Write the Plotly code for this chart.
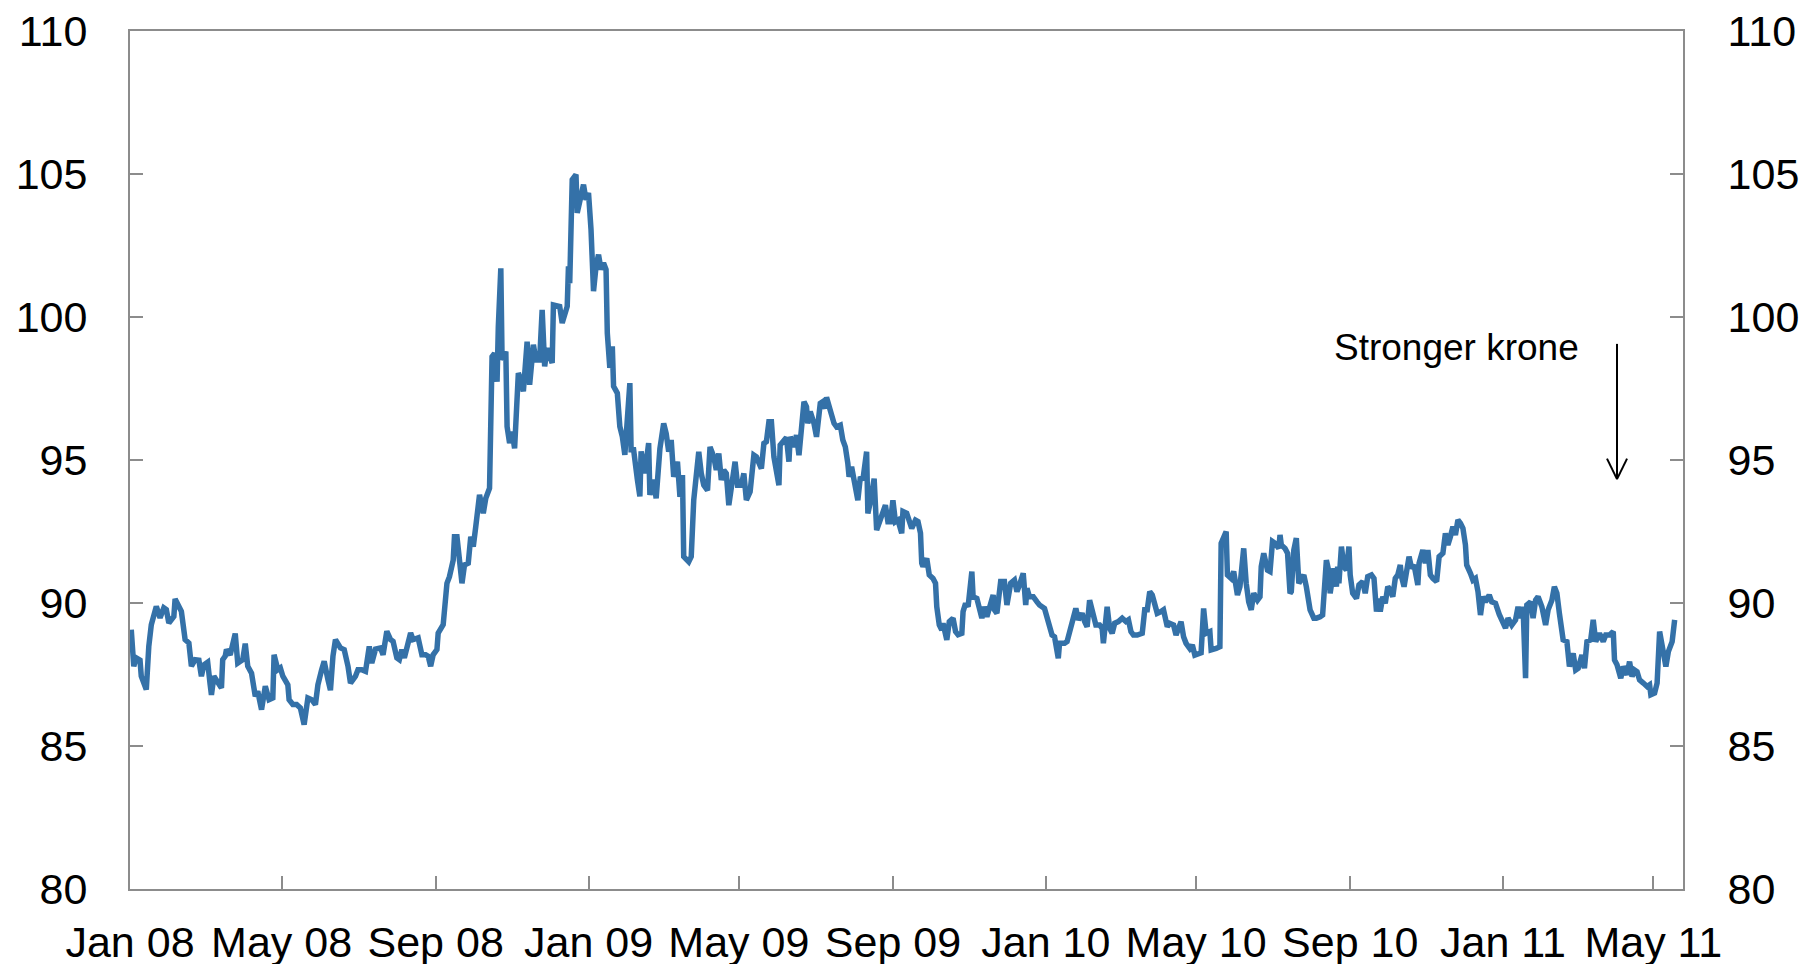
import pandas as pd
import plotly.graph_objects as go

# Day offsets counted from 1 Jan 2008 and index values
DAY_OFFSETS = [
    1, 3, 5, 8, 9, 13, 15, 17, 21, 24, 27, 29, 31, 35, 36, 39, 41, 44, 47, 49,
    52, 55, 57, 59, 62, 64, 65, 67, 70, 73, 74, 76, 77, 80, 84, 86, 90, 92, 94, 97,
    100, 102, 105, 108, 111, 114, 115, 118, 120, 122, 126, 127, 130, 133, 136, 139, 142, 145, 148, 150,
    153, 155, 158, 160, 162, 164, 168, 171, 174, 176, 180, 182, 185, 188, 191, 193, 196, 200, 202, 205,
    208, 210, 213, 215, 217, 219, 222, 224, 226, 230, 233, 236, 238, 240, 242, 245, 246, 250, 253, 255,
    258, 259, 261, 263, 265, 267, 270, 272, 274, 276, 279, 282, 284, 287, 289, 291, 293, 294, 296, 297,
    300, 301, 303, 305, 307, 310, 312, 314, 317, 319, 322, 324, 327, 329, 331, 333, 337, 338, 341, 343,
    345, 349, 350, 351, 353, 356, 357, 360, 362, 364, 366, 368, 370, 372, 374, 376, 378, 380, 381, 383,
    385, 386, 389, 391, 393, 395, 397, 399, 400, 402, 405, 407, 408, 411, 414, 415, 418, 420, 423, 426,
    428, 430, 432, 434, 437, 439, 441, 442, 446, 448, 450, 452, 454, 456, 458, 461, 463, 466, 468, 470,
    472, 474, 476, 478, 481, 483, 485, 488, 490, 492, 495, 498, 500, 504, 506, 508, 510, 512, 514, 516,
    518, 519, 522, 524, 526, 527, 530, 532, 534, 536, 538, 540, 541, 543, 546, 548, 551, 553, 555, 556,
    559, 562, 564, 567, 569, 571, 573, 574, 576, 578, 580, 581, 583, 585, 588, 589, 591, 594, 596, 599,
    603, 605, 607, 609, 611, 613, 616, 617, 620, 624, 627, 629, 631, 632, 633, 636, 638, 641, 643, 644,
    646, 648, 649, 652, 654, 657, 659, 661, 664, 665, 667, 669, 672, 673, 676, 680, 682, 684, 686, 689,
    690, 692, 695, 698, 700, 703, 706, 708, 710, 713, 715, 716, 718, 721, 724, 726, 730, 733, 736, 738,
    740, 741, 742, 746, 748, 750, 752, 755, 757, 760, 762, 764, 766, 768, 771, 774, 776, 777, 780, 782,
    784, 786, 789, 792, 795, 797, 799, 801, 804, 808, 810, 812, 814, 816, 818, 820, 823, 825, 828, 830,
    833, 835, 838, 839, 841, 843, 846, 848, 850, 853, 855, 857, 859, 862, 863, 867, 870, 871, 873, 875,
    876, 879, 881, 882, 884, 886, 889, 891, 893, 895, 897, 900, 902, 903, 905, 908, 910, 912, 914, 917,
    918, 919, 922, 924, 926, 927, 929, 931, 933, 935, 937, 939, 942, 945, 947, 950, 952, 955, 957, 958,
    961, 963, 964, 965, 967, 969, 971, 973, 974, 976, 979, 981, 984, 986, 988, 991, 993, 995, 997, 998,
    1000, 1002, 1004, 1006, 1008, 1010, 1012, 1014, 1015, 1017, 1019, 1021, 1023, 1025, 1028, 1029, 1032, 1034, 1036, 1038,
    1040, 1043, 1045, 1048, 1050, 1052, 1054, 1056, 1058, 1060, 1062, 1064, 1066, 1067, 1070, 1072, 1074, 1076, 1078, 1080,
    1082, 1085, 1087, 1090, 1093, 1096, 1098, 1100, 1103, 1106, 1108, 1110, 1112, 1114, 1115, 1118, 1120, 1122, 1124, 1127,
    1130, 1132, 1135, 1137, 1139, 1141, 1144, 1147, 1149, 1152, 1154, 1156, 1159, 1161, 1163, 1166, 1168, 1170, 1173, 1176,
    1178, 1181, 1184, 1185, 1187, 1190, 1192, 1195, 1197, 1199, 1201, 1203, 1205, 1208, 1211, 1213, 1214, 1217, 1219, 1221,
    1223, 1226, 1228, 1231, 1233,
]

INDEX_VALUES = [
    89.07, 87.79, 88.08, 88.00, 87.44, 86.97, 88.48, 89.24, 89.88, 89.48, 89.83, 89.77, 89.30, 89.53, 90.14, 89.83, 89.71, 88.72, 88.60, 87.79,
    88.02, 88.00, 87.44, 87.84, 87.93, 87.14, 86.79, 87.44, 87.20, 87.03, 88.02, 88.14, 88.37, 88.19, 88.93, 87.90, 88.02, 88.58, 87.79, 87.55,
    86.74, 86.91, 86.27, 87.09, 86.62, 86.68, 88.19, 87.67, 87.73, 87.44, 87.14, 86.62, 86.45, 86.45, 86.33, 85.75, 86.68, 86.62, 86.45, 87.14,
    87.67, 87.96, 87.32, 86.95, 88.14, 88.72, 88.43, 88.37, 87.79, 87.20, 87.44, 87.67, 87.67, 87.61, 88.48, 87.90, 88.39, 88.43, 88.19, 89.01,
    88.72, 88.66, 88.08, 88.02, 88.37, 88.08, 88.60, 88.95, 88.72, 88.78, 88.19, 88.19, 88.14, 87.79, 88.19, 88.37, 88.95, 89.24, 90.69, 90.92,
    91.50, 92.32, 92.32, 91.50, 90.69, 91.33, 91.39, 92.32, 91.97, 92.67, 93.78, 93.14, 93.66, 94.01, 98.61, 98.73, 97.74, 99.66, 101.70, 98.50,
    98.79, 96.17, 95.59, 95.99, 95.41, 98.04, 97.80, 97.40, 99.14, 97.63, 99.03, 98.50, 98.50, 100.25, 98.27, 98.91, 98.39, 100.42, 100.37, 100.37,
    99.79, 100.37, 101.77, 101.18, 104.80, 104.98, 103.64, 104.22, 104.63, 104.10, 104.34, 103.06, 100.90, 101.77, 102.18, 101.66, 101.89, 101.66, 99.44, 98.22,
    98.97, 97.58, 97.34, 96.17, 95.82, 95.18, 96.87, 97.69, 95.36, 95.36, 94.31, 93.73, 95.30, 94.54, 95.59, 93.78, 94.31, 93.66, 95.40, 96.28,
    95.93, 95.29, 95.70, 94.41, 94.94, 93.71, 94.47, 91.62, 91.44, 91.62, 93.60, 94.30, 95.29, 94.53, 94.12, 93.94, 95.46, 95.11, 94.65, 95.23,
    94.30, 94.65, 94.53, 93.42, 94.18, 94.94, 94.12, 94.12, 94.53, 93.60, 93.89, 95.17, 95.11, 94.70, 95.58, 95.64, 96.34, 96.34, 95.11, 94.53,
    94.12, 95.52, 95.70, 95.79, 94.94, 95.81, 95.46, 95.87, 95.17, 95.93, 97.04, 96.86, 96.28, 96.69, 96.28, 95.81, 96.98, 97.04, 96.80, 97.19,
    96.75, 96.28, 96.16, 96.22, 95.70, 95.46, 94.88, 94.41, 94.76, 94.24, 93.94, 93.59, 94.41, 94.30, 95.29, 93.13, 93.54, 94.35, 92.55, 92.90,
    93.42, 92.84, 92.84, 93.59, 92.84, 92.90, 92.44, 93.20, 93.14, 92.61, 92.90, 92.85, 92.44, 91.39, 91.27, 91.56, 90.98, 90.86, 90.69, 89.87,
    89.23, 89.06, 89.29, 88.71, 89.35, 89.47, 89.00, 88.89, 88.94, 89.70, 89.99, 89.87, 91.10, 90.22, 90.16, 89.47, 89.87, 89.52, 89.87, 90.28,
    89.76, 89.64, 90.75, 90.75, 89.93, 90.69, 90.80, 90.40, 90.63, 91.04, 89.93, 90.51, 90.22, 90.22, 90.04, 89.93, 89.81, 89.29, 88.88, 88.82,
    88.36, 88.07, 88.59, 88.59, 88.65, 89.00, 89.29, 89.81, 89.41, 89.64, 89.35, 89.17, 90.10, 89.70, 89.23, 89.23, 89.12, 88.59, 89.87, 89.12,
    88.94, 89.29, 89.35, 89.47, 89.35, 89.41, 89.00, 88.88, 88.88, 88.94, 89.76, 89.76, 90.40, 90.28, 89.87, 89.64, 89.70, 89.76, 89.17, 89.29,
    89.23, 88.88, 89.23, 89.35, 88.82, 88.59, 88.41, 88.53, 88.18, 88.24, 88.26, 89.81, 88.94, 89.00, 88.36, 88.41, 88.47, 92.09, 92.27, 92.50,
    90.98, 90.86, 91.10, 90.80, 90.28, 90.57, 91.91, 90.69, 90.04, 89.76, 90.34, 90.10, 90.22, 91.27, 91.74, 91.15, 91.10, 92.15, 92.09, 91.91,
    92.38, 92.03, 91.91, 91.74, 90.34, 90.40, 91.85, 92.27, 90.69, 90.80, 90.98, 90.57, 89.76, 89.47, 89.47, 89.52, 89.58, 91.50, 91.10, 90.34,
    91.21, 90.57, 91.27, 90.69, 91.97, 91.27, 91.15, 91.97, 90.98, 90.34, 90.16, 90.63, 90.75, 90.34, 90.92, 90.98, 90.86, 89.70, 90.16, 89.70,
    90.22, 89.99, 90.57, 90.45, 90.22, 90.86, 90.98, 91.33, 90.92, 90.57, 91.27, 91.62, 91.21, 91.33, 90.63, 91.39, 91.85, 91.39, 91.85, 90.98,
    90.86, 90.75, 91.62, 91.74, 92.44, 92.03, 92.32, 92.67, 92.38, 92.90, 92.79, 92.61, 92.03, 91.33, 91.04, 90.80, 90.86, 90.40, 89.58, 90.22,
    90.04, 90.28, 90.04, 89.99, 89.60, 89.35, 89.12, 89.47, 89.23, 89.41, 89.87, 89.47, 89.87, 87.37, 89.93, 90.04, 89.47, 90.10, 90.22, 89.87,
    89.23, 89.76, 90.10, 90.57, 90.34, 89.64, 88.71, 88.65, 87.78, 88.24, 87.66, 87.72, 88.18, 87.72, 88.65, 88.71, 89.41, 88.65, 88.94, 88.65,
    88.88, 88.88, 89.00, 88.01, 87.84, 87.37, 87.78, 87.49, 87.95, 87.43, 87.66, 87.60, 87.31, 87.20, 87.08, 87.14, 86.79, 86.85, 87.20, 89.00,
    88.53, 87.78, 88.30, 88.65, 89.41,
]

TICK_DATES = ["2008-01-01", "2008-05-01", "2008-09-01", "2009-01-01", "2009-05-01",
              "2009-09-01", "2010-01-01", "2010-05-01", "2010-09-01", "2011-01-01",
              "2011-05-01"]
TICK_TEXT = ["Jan 08", "May 08", "Sep 08", "Jan 09", "May 09", "Sep 09",
             "Jan 10", "May 10", "Sep 10", "Jan 11", "May 11"]
Y_TICKS = [80, 85, 90, 95, 100, 105, 110]
ANNOTATION_TEXT = "Stronger krone"

dates = pd.Timestamp("2008-01-01") + pd.to_timedelta(DAY_OFFSETS, unit="D")

LINE_COLOR = "#3471a8"
AXIS_COLOR = "#8c8c8c"
FONT = "Liberation Sans, Arial, sans-serif"

fig = go.Figure()
fig.add_trace(go.Scatter(x=dates, y=INDEX_VALUES, mode="lines",
                         line=dict(color=LINE_COLOR, width=5.5),
                         showlegend=False, hoverinfo="x+y"))
fig.add_trace(go.Scatter(x=dates, y=INDEX_VALUES, mode="lines", yaxis="y2",
                         line=dict(color=LINE_COLOR, width=0), opacity=0,
                         showlegend=False, hoverinfo="skip"))

axis_common = dict(showgrid=False, zeroline=False, showline=True,
                   linecolor=AXIS_COLOR, linewidth=2, ticks="inside",
                   ticklen=13, tickwidth=2, tickcolor=AXIS_COLOR,
                   automargin=False, ticklabeloverflow="allow",
                   tickfont=dict(family=FONT, size=43, color="black"))

# The page body adds an 8 px offset, so margins are set to place the plot
# area at the reference position in the browser window.
fig.update_layout(
    width=1810, height=964,
    margin=dict(l=122, r=135, t=23, b=83),
    paper_bgcolor="white", plot_bgcolor="white",
    xaxis=dict(type="date", range=["2008-01-01", "2011-05-24 16:00"],
               tickmode="array", tickvals=TICK_DATES, ticktext=TICK_TEXT,
               mirror=True, ticklabelstandoff=14, **axis_common),
    yaxis=dict(range=[80, 110], tickmode="array", tickvals=Y_TICKS,
               ticklabelstandoff=32, **axis_common),
    yaxis2=dict(range=[80, 110], tickmode="array", tickvals=Y_TICKS,
                overlaying="y", side="right", ticklabelstandoff=34,
                **axis_common),
    font=dict(family=FONT, color="black"),
)

# annotation text
fig.add_annotation(x="2010-11-25", y=98.95, xref="x", yref="y",
                   text=ANNOTATION_TEXT, showarrow=False,
                   font=dict(family=FONT, size=37, color="black"),
                   xanchor="center", yanchor="middle")

# arrow (line plus open V head)
arrow_x = pd.Timestamp("2011-04-02")
half = pd.Timedelta(days=8)
fig.add_shape(type="line", xref="x", yref="y", x0=arrow_x, x1=arrow_x,
              y0=99.06, y1=94.33, line=dict(color="black", width=2))
fig.add_shape(type="line", xref="x", yref="y", x0=arrow_x - half, x1=arrow_x,
              y0=95.05, y1=94.33, line=dict(color="black", width=2))
fig.add_shape(type="line", xref="x", yref="y", x0=arrow_x + half, x1=arrow_x,
              y0=95.05, y1=94.33, line=dict(color="black", width=2))

fig.write_html("out.html")
